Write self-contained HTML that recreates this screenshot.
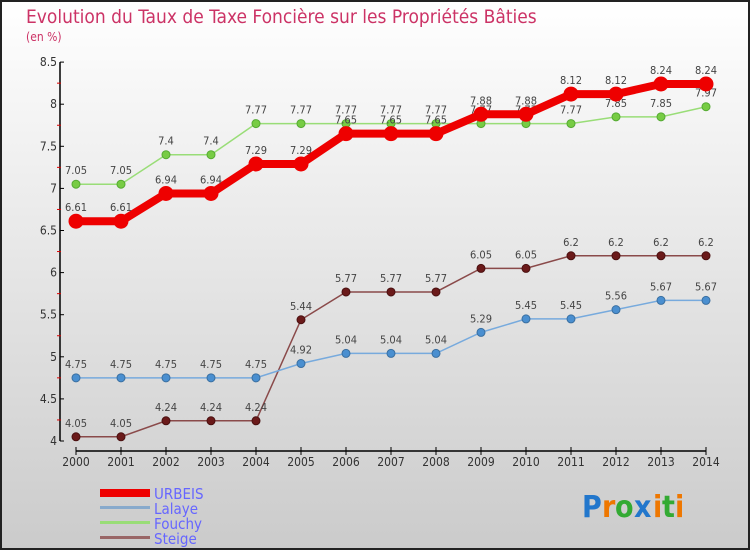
<!DOCTYPE html>
<html><head><meta charset="utf-8"><style>
body{margin:0;}
svg text{font-family:"DejaVu Sans Condensed","Liberation Sans",sans-serif;}
</style></head><body>
<svg width="750" height="550" xmlns="http://www.w3.org/2000/svg">
<defs><linearGradient id="bg" x1="0" y1="0" x2="0" y2="1"><stop offset="0" stop-color="#ffffff"/><stop offset="1" stop-color="#cbcbcb"/></linearGradient></defs>
<rect x="1" y="1" width="748" height="548" fill="url(#bg)" stroke="#222" stroke-width="2"/>
<text x="26" y="23" font-size="19" fill="#cc3366">Evolution du Taux de Taxe Foncière sur les Propriétés Bâties</text>
<text x="26" y="41" font-size="12" fill="#cc3366">(en %)</text>
<g id="axes"></g>
<g id="series"></g>
<g id="legend">
<rect x="100" y="489" width="50" height="8" fill="#ee0000"/>
<text x="154" y="499" font-size="15" fill="#6666ff">URBEIS</text>
<rect x="100" y="506" width="50" height="3" fill="#88aacc"/>
<text x="154" y="514" font-size="15" fill="#6666ff">Lalaye</text>
<rect x="100" y="521" width="50" height="3" fill="#99dd77"/>
<text x="154" y="529" font-size="15" fill="#6666ff">Fouchy</text>
<rect x="100" y="536" width="50" height="3" fill="#996666"/>
<text x="154" y="544" font-size="15" fill="#6666ff">Steige</text>
</g>
<g font-size="30" font-weight="bold">
<text x="582" y="517" fill="#2277cc">P</text><text x="602" y="517" fill="#ee7700">r</text><text x="615" y="517" fill="#33aa33">o</text><text x="634" y="517" fill="#2277cc">x</text><text x="653" y="517" fill="#ee7700">i</text><text x="662" y="517" fill="#33aa33">t</text><text x="675" y="517" fill="#ee7700">i</text>
</g>
</svg>
<script>
const years=[2000,2001,2002,2003,2004,2005,2006,2007,2008,2009,2010,2011,2012,2013,2014];
const yTicks=[4,4.5,5,5.5,6,6.5,7,7.5,8,8.5];
const urbeis=[6.61,6.61,6.94,6.94,7.29,7.29,7.65,7.65,7.65,7.88,7.88,8.12,8.12,8.24,8.24];
const lalaye=[4.75,4.75,4.75,4.75,4.75,4.92,5.04,5.04,5.04,5.29,5.45,5.45,5.56,5.67,5.67];
const fouchy=[7.05,7.05,7.4,7.4,7.77,7.77,7.77,7.77,7.77,7.77,7.77,7.77,7.85,7.85,7.97];
const steige=[4.05,4.05,4.24,4.24,4.24,5.44,5.77,5.77,5.77,6.05,6.05,6.2,6.2,6.2,6.2];
const NS="http://www.w3.org/2000/svg";
const xS=i=>76+i*45;
const yS=v=>441-(v-4)*84.2;
function mk(tag,attrs,parent,txt){const e=document.createElementNS(NS,tag);for(const k in attrs)e.setAttribute(k,attrs[k]);if(txt!==undefined)e.textContent=txt;parent.appendChild(e);return e;}
const ax=document.getElementById('axes');
let e=mk('line',{x1:60,y1:yS(8.5),x2:60,y2:yS(4),stroke:'#000','stroke-width':1.5},ax);


yTicks.forEach((t,i)=>{
 mk('line',{x1:60,y1:yS(t),x2:64,y2:yS(t),stroke:'#000'},ax);
 if(i<yTicks.length-1)mk('line',{x1:57,y1:yS(t+0.25),x2:61,y2:yS(t+0.25),stroke:'#d00'},ax);
 const l=mk('text',{x:57,y:yS(t)+4,'font-size':12,fill:'#333','text-anchor':'end'},ax,String(t));
 
 
});
e=mk('line',{x1:xS(0),y1:451,x2:xS(14),y2:451,stroke:'#000','stroke-width':1.5},ax);


years.forEach((y,i)=>{
 mk('line',{x1:xS(i),y1:447,x2:xS(i),y2:455,stroke:'#000'},ax);
 const l=mk('text',{x:xS(i),y:466,'font-size':12,fill:'#333','text-anchor':'middle'},ax,String(y));
 
 
});
const sg=document.getElementById('series');
function draw(name,vals,color,w,r,dot,stroke){
 const g=mk('g',{},sg);
 
 
 const p=mk('polyline',{points:vals.map((v,i)=>xS(i)+','+yS(v)).join(' '),fill:'none',stroke:color,'stroke-width':w},g);
 
 
 vals.forEach((v,i)=>{
  const c=mk('circle',{cx:xS(i),cy:yS(v),r:r,fill:dot,stroke:stroke,'stroke-width':1},g);
  
  
  const t=mk('text',{x:xS(i),y:yS(v)-10,'font-size':11,fill:'#444','text-anchor':'middle'},g,String(v));
  
  
 });
}
draw('steige',steige,'#8a4a4a',1.5,4,'#6b1a1a','#4a1010');
draw('lalaye',lalaye,'#77aadd',1.5,4,'#4a8fd0','#3a6fa0');
draw('fouchy',fouchy,'#99dd77',1.5,4,'#77cc44','#55aa33');
draw('urbeis',urbeis,'#ee0000',8,7,'#ee0000','#ee0000');
</script>
</body></html>
